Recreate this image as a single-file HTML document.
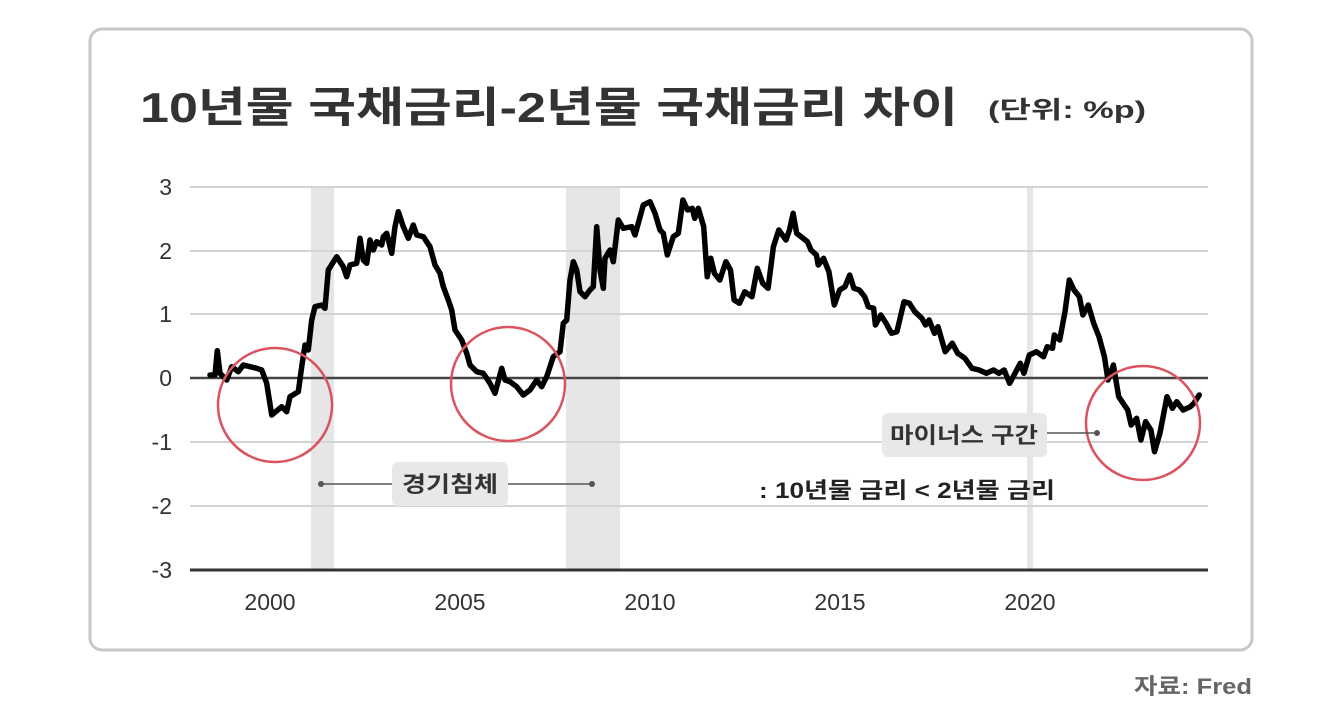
<!DOCTYPE html>
<html><head><meta charset="utf-8"><style>
html,body{margin:0;padding:0;background:#fff;}
svg{display:block;}
text{font-family:"Liberation Sans","Noto Sans CJK KR",sans-serif;}
</style></head><body>
<svg width="1328" height="718" viewBox="0 0 1328 718" xmlns="http://www.w3.org/2000/svg">
<rect x="90" y="29" width="1162" height="621" rx="12" fill="#fff" stroke="#c8c8c8" stroke-width="3"/>
<text x="140" y="122" font-size="42" font-weight="bold" fill="#333" textLength="818" lengthAdjust="spacingAndGlyphs">10년물 국채금리-2년물 국채금리 차이</text>
<text x="988" y="118" font-size="24" font-weight="bold" fill="#333" textLength="158" lengthAdjust="spacingAndGlyphs">(단위: %p)</text>
<rect x="311" y="187" width="23" height="383" fill="#e6e6e6"/>
<rect x="566" y="187" width="54" height="383" fill="#e6e6e6"/>
<rect x="1027" y="187" width="6" height="383" fill="#e6e6e6"/>
<g stroke="#d4d4d4" stroke-width="2">
<line x1="190" x2="1208" y1="187" y2="187"/>
<line x1="190" x2="1208" y1="251" y2="251"/>
<line x1="190" x2="1208" y1="314" y2="314"/>
<line x1="190" x2="1208" y1="442" y2="442"/>
<line x1="190" x2="1208" y1="506" y2="506"/>
</g>
<line x1="190" x2="1208" y1="378" y2="378" stroke="#444" stroke-width="2.5"/>
<line x1="190" x2="1208" y1="570" y2="570" stroke="#333" stroke-width="3"/>
<g font-size="23" fill="#333" text-anchor="end">
<text x="172" y="195">3</text><text x="172" y="259">2</text><text x="172" y="322">1</text>
<text x="172" y="386">0</text><text x="172" y="450">-1</text><text x="172" y="514">-2</text><text x="172" y="578">-3</text>
</g>
<g font-size="23" fill="#333" text-anchor="middle">
<text x="270" y="610">2000</text><text x="460" y="610">2005</text><text x="650" y="610">2010</text>
<text x="840" y="610">2015</text><text x="1030" y="610">2020</text>
</g>
<polyline fill="none" stroke="#000" stroke-width="5.5" stroke-linejoin="round" stroke-linecap="round" points="210,375 215,375 217.3,350.7 220,373.3 226.7,380 231.7,366.7 238.3,371.7 243.3,365 250,366.7 256.7,368.3 261.7,370 266.7,383.3 271.7,415 281.7,406.7 286.7,411.7 290,396.7 298.3,391.7 301.7,366.7 305,345 308.3,350 311.7,320 315,306.7 321.7,305 325,308.3 328.3,270 336.7,256.7 343.3,266.7 346.7,276.7 350,265 356.7,263.3 360,238.3 363.3,260 366.7,263.3 370,240 373.3,250 376.7,241.7 381.7,245 383.3,236.7 386.7,233.3 391.7,253.3 395,226.7 398.3,211.7 403.3,226.7 408.3,238.3 413.3,225 416.7,235 423.3,236.7 430,246.7 435,265 440,273.3 443.3,286.7 448.3,300 451.7,310 455,330 461.7,340 466.7,353.3 470,365 476.7,371.7 483.3,373.3 490,383.3 495,393.3 501.7,368.3 505,380 510,381.7 516.7,386.7 523.3,395 530,390 536.7,380 541.7,386.7 546.7,376.7 553.3,356.7 560,351.7 563.3,323.3 566.7,320 570,280 573.3,261.7 576.7,270 580,291.7 585,296.7 590,290 593.3,286.7 596.7,226.7 600,270 603.3,288.3 605,258.3 610,250 613.3,261.7 618.3,220 623.3,228.3 631.7,226.7 635,235 638.3,223.3 643.3,205 650,201.7 655,213.3 660,230 663.3,233.3 667.3,255 673.3,236.7 678.3,233.3 682.9,200 687.6,210 692.2,208.3 694.7,218.3 698.3,208.3 703.7,226.7 707.2,276.7 710.8,258.3 714.4,273.3 719.8,280 725.9,261.7 730.5,270 734.1,300 739.5,303.3 744.8,291.7 752,296.7 757.3,268.3 762.7,283.3 768.1,288.3 773.4,246.7 778.8,230 786,240 789.5,230 793.1,213.3 796.7,233.3 807.4,241.7 811,250 816.4,255 818.2,265 823.5,258.3 828.9,271.7 834.3,305 839.6,290 845,286.7 849.7,275 853.9,288.3 859.3,290 864.7,296.7 868.3,306.7 873.6,308.3 875.4,325 880.8,315 886.1,323.3 891.5,333.3 896.9,331.7 904,301.7 909.4,303.3 914.8,311.7 921.9,318.3 925.5,325 929.1,320 934.5,333.3 938,326.7 945.2,351.7 952.3,343.3 957.7,353.3 964.9,358.3 972,368.3 979.2,370 986.3,373.3 993.5,370 998.9,373.3 1004.2,370 1009.6,383.3 1015,373.3 1020.3,363.3 1023.9,373.3 1029.3,355 1036.4,351.7 1043.6,356.7 1047.2,346.7 1052.5,348.3 1054.3,335 1059.7,340 1065,311.7 1069.3,280 1074,290 1079.4,296.7 1082.9,315 1088.3,305 1093.7,323.3 1099,336.7 1104.4,356.7 1108,380 1113.4,365 1118.7,396.7 1127.7,410 1131.2,425 1136.6,418.3 1140.9,440 1145.6,421.7 1150.9,430 1154.5,451.7 1159.9,433.3 1167,396.7 1172.4,408.3 1176.7,401.7 1183.1,410 1190.3,406.7 1193.9,403.3 1199.2,395"/>
<g fill="none" stroke="#d9545f" stroke-width="2.5">
<circle cx="275" cy="405" r="57"/>
<circle cx="508" cy="384" r="57"/>
<circle cx="1143" cy="423" r="57"/>
</g>
<g stroke="#555" stroke-width="1.5">
<line x1="321" x2="392" y1="484" y2="484"/>
<line x1="508" x2="592" y1="484" y2="484"/>
<line x1="1047" x2="1097" y1="433" y2="433"/>
</g>
<g fill="#555"><circle cx="321" cy="484" r="3"/><circle cx="592" cy="484" r="3"/><circle cx="1097" cy="433" r="3"/></g>
<rect x="392" y="462" width="116" height="44" rx="6" fill="#e8e8e8"/>
<text x="450" y="492" font-size="22" font-weight="bold" fill="#333" text-anchor="middle" textLength="96" lengthAdjust="spacingAndGlyphs">경기침체</text>
<rect x="882" y="413" width="165" height="44" rx="6" fill="#e8e8e8"/>
<text x="964" y="443" font-size="22" font-weight="bold" fill="#333" text-anchor="middle" textLength="148" lengthAdjust="spacingAndGlyphs">마이너스 구간</text>
<text x="759" y="498" font-size="22" font-weight="bold" fill="#222" textLength="296" lengthAdjust="spacingAndGlyphs">: 10년물 금리 &lt; 2년물 금리</text>
<text x="1252" y="694" font-size="22" font-weight="bold" fill="#666" text-anchor="end" textLength="118" lengthAdjust="spacingAndGlyphs">자료: Fred</text>
</svg>
</body></html>
